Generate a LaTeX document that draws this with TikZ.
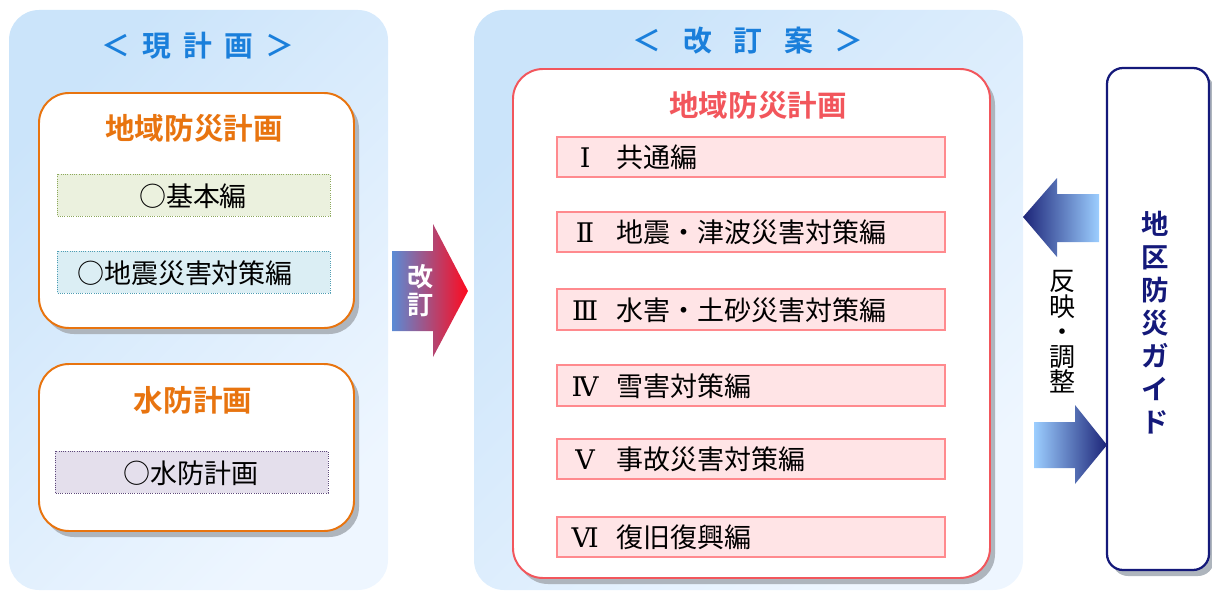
\documentclass[tikz,border=0pt]{standalone}
\usepackage{fontspec}
\setmainfont{Noto Sans CJK JP}[BoldFont={Noto Sans CJK JP Bold}]
\newfontfamily\romfont{DejaVu Serif}
\definecolor{panelA}{HTML}{CBE4FA}
\definecolor{panelB}{HTML}{EEF6FF}
\definecolor{titleblue}{HTML}{1A7FDB}
\definecolor{planorange}{HTML}{E8740F}
\definecolor{planred}{HTML}{F2565C}
\definecolor{itemfill}{HTML}{FFE4E6}
\definecolor{itemline}{HTML}{FF8A8E}
\definecolor{basefill}{HTML}{EBF1DE}
\definecolor{baseedge}{HTML}{8CA85A}
\definecolor{quakefill}{HTML}{DBEEF4}
\definecolor{quakeedge}{HTML}{4E9DB3}
\definecolor{floodfill}{HTML}{E4DFEC}
\definecolor{floodedge}{HTML}{5F4A7B}
\definecolor{shadowgray}{HTML}{AEB5BD}
\definecolor{guidenavy}{HTML}{14197A}
\definecolor{arrowdark}{HTML}{1C2478}
\definecolor{arrowlight}{HTML}{9CCEFF}
\definecolor{revblue}{HTML}{5A8BD5}
\definecolor{revred}{HTML}{FF0A1E}
\begin{document}
\begin{tikzpicture}[x=0.025cm,y=-0.025cm,
	panel/.style={rounded corners=0.75cm,top color=panelA,bottom color=panelB,shading angle=45},
	shadowbox/.style={fill=shadowgray,rounded corners=0.75cm},
	planbox/.style={fill=white,draw=#1,line width=1.4pt,rounded corners=0.75cm},
	partbox/.style={fill=itemfill,draw=itemline,line width=1pt},
	notebox/.style={fill=#1fill,draw=#1edge,densely dotted,line width=0.6pt},
	heading/.style={font=\bfseries\fontsize{21}{25}\selectfont},
	title/.style={text=titleblue,font=\bfseries\fontsize{20.5}{25}\selectfont},
	entry/.style={inner sep=0pt,font=\fontsize{19.2}{23}\selectfont}]
	\useasboundingbox (0,0) rectangle (1212,591);

	\shade[panel] (9,10) rectangle (388,590);
	\shade[panel] (474,10) rectangle (1023,590);
	\node[title] (nowtitle) at (198,46) {＜\hspace{.42em}現\hspace{.42em}計\hspace{.42em}画\hspace{.42em}＞};
	\node[title] (newtitle) at (748,41) {＜\hspace{.75em}改\hspace{.75em}訂\hspace{.75em}案\hspace{.75em}＞};

	% current plans
	\fill[shadowbox] (44,99) rectangle (359,334);
	\draw[planbox=planorange] (39,93) rectangle (354,328);
	\node[heading,text=planorange] (localplan) at (194,128) {地域防災計画};
	\draw[notebox=base] (57,174) rectangle (330,216);
	\node[entry] (basic) at (193,196) {○基本編};
	\draw[notebox=quake] (57,251) rectangle (330,293);
	\node[entry] (quake) at (185,273) {○地震災害対策編};

	\fill[shadowbox] (44,370) rectangle (359,537);
	\draw[planbox=planorange] (39,364) rectangle (354,531);
	\node[heading,text=planorange] (floodplan) at (193,400) {水防計画};
	\draw[notebox=flood] (55,451) rectangle (328,493);
	\node[entry] (flood) at (191,473) {○水防計画};

	% revision arrow
	\shade[left color=revblue,right color=revred] (392,251) -- (433,251) -- (433,224) -- (468,291) -- (433,357) -- (433,331) -- (392,331) -- cycle;
	\node[text=white,font=\bfseries\fontsize{18.5}{20}\selectfont,align=center] (revise) at (421,291) {改\\訂};

	% draft plan
	\fill[shadowbox] (518,75) rectangle (995,584);
	\draw[planbox=planred] (513,69) rectangle (990,578);
	\node[heading,text=planred] (draftplan) at (758,105) {地域防災計画};
	\draw[partbox] (557,137) rectangle (945,177);
	\node[entry,anchor=west] (part1) at (570,157) {\makebox[1.1em]{\romfont Ⅰ}\hspace{.6em}共通編};
	\draw[partbox] (557,212) rectangle (945,252);
	\node[entry,anchor=west] (part2) at (570,232) {\makebox[1.1em]{\romfont Ⅱ}\hspace{.6em}地震・津波災害対策編};
	\draw[partbox] (557,289) rectangle (945,330);
	\node[entry,anchor=west] (part3) at (570,310) {\makebox[1.1em]{\romfont Ⅲ}\hspace{.6em}水害・土砂災害対策編};
	\draw[partbox] (557,365) rectangle (945,406);
	\node[entry,anchor=west] (part4) at (570,386) {\makebox[1.1em]{\romfont Ⅳ}\hspace{.6em}雪害対策編};
	\draw[partbox] (557,439) rectangle (945,479);
	\node[entry,anchor=west] (part5) at (570,459) {\makebox[1.1em]{\romfont Ⅴ}\hspace{.6em}事故災害対策編};
	\draw[partbox] (557,517) rectangle (945,557);
	\node[entry,anchor=west] (part6) at (570,537) {\makebox[1.1em]{\romfont Ⅵ}\hspace{.6em}復旧復興編};

	% district guide
	\fill[shadowbox,rounded corners=0.4cm] (1112,74) rectangle (1214,576);
	\draw[fill=white,draw=guidenavy,line width=1.6pt,rounded corners=0.4cm] (1107,68) rectangle (1209,570);
	\node[text=guidenavy,font=\bfseries\fontsize{19.5}{23.5}\selectfont,align=center] (guide) at (1155,323) {地\\区\\防\\災\\ガ\\イ\\ド};
	\shade[left color=arrowdark,right color=arrowlight] (1099,194) -- (1057,194) -- (1057,178) -- (1023,217) -- (1057,257) -- (1057,242) -- (1099,242) -- cycle;
	\shade[left color=arrowlight,right color=arrowdark] (1034,422) -- (1075,422) -- (1075,405) -- (1107,445) -- (1075,484) -- (1075,468) -- (1034,468) -- cycle;
	\node[font=\fontsize{18.5}{18}\selectfont,align=center] (adjust) at (1062,332) {反\\映\\・\\調\\整};

          \end{tikzpicture}
\end{document}
